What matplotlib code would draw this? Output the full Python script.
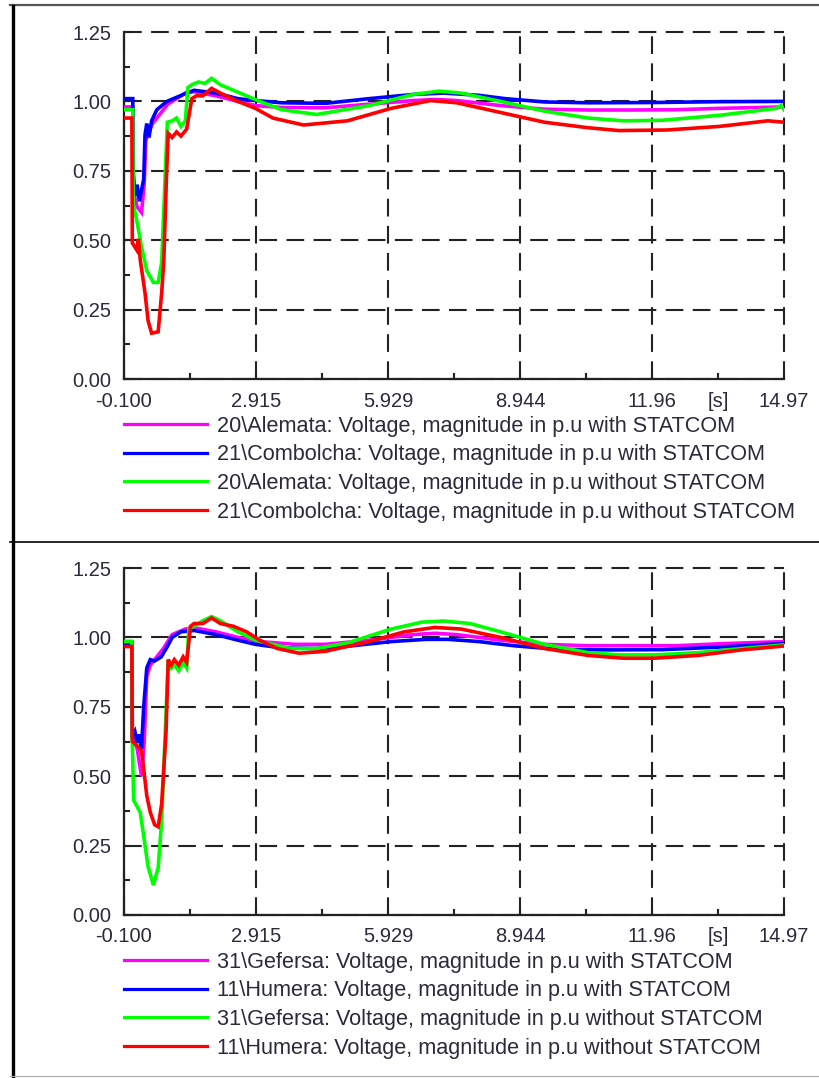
import matplotlib
matplotlib.use('Agg')
from matplotlib import pyplot as plt
from matplotlib.lines import Line2D
from matplotlib.ticker import FixedLocator, FixedFormatter

plt.rcParams['font.family'] = ['Liberation Sans', 'DejaVu Sans']

# axis ticks
x_ticks = [-0.1, 2.915, 5.929, 8.944, 11.96, 14.97]
x_tick_labels = ['-0.100', '2.915', '5.929', '8.944', '11.96', '14.97']
x_unit_label = '[s]'
y_ticks = [0.0, 0.25, 0.5, 0.75, 1.0, 1.25]
y_tick_labels = ['0.00', '0.25', '0.50', '0.75', '1.00', '1.25']

colors = ['#ff00ff', '#0000ff', '#00ff00', '#ff0000']

# ---- top panel: Alemata / Combolcha ----
top_labels = [
    '20\\Alemata: Voltage, magnitude in p.u with STATCOM',
    '21\\Combolcha: Voltage, magnitude in p.u with STATCOM',
    '20\\Alemata: Voltage, magnitude in p.u without STATCOM',
    '21\\Combolcha: Voltage, magnitude in p.u without STATCOM',
]

alemata_with_t = [-0.1, 0.1, 0.11, 0.2, 0.3, 0.36, 0.4, 0.47, 0.55, 0.7, 0.9, 1.3, 1.5,
                  2.0, 2.5, 2.9, 3.5, 4.5, 5.5, 6.5, 7.0, 7.5, 8.5, 9.5, 10.5, 11.5, 12.5, 13.5, 14.97]
alemata_with_v = [0.98, 0.98, 0.68, 0.62, 0.60, 0.70, 0.86, 0.89, 0.92, 0.95, 0.99, 1.03, 1.035,
                  1.02, 1.0, 0.985, 0.978, 0.977, 0.99, 1.003, 1.007, 1.003, 0.985, 0.972, 0.969, 0.969, 0.970, 0.975, 0.98]

combolcha_with_t = [-0.1, 0.1, 0.11, 0.15, 0.2, 0.25, 0.3, 0.35, 0.38, 0.42, 0.47, 0.53, 0.65, 0.88,
                    1.33, 1.5, 2.0, 2.5, 2.9, 3.5, 4.5, 5.5, 6.5, 7.2, 8.0, 8.6, 9.5, 10.5, 12.0, 13.5, 14.97]
combolcha_with_v = [1.01, 1.01, 0.75, 0.66, 0.70, 0.64, 0.68, 0.72, 0.88, 0.92, 0.87, 0.93, 0.97, 1.0,
                    1.03, 1.04, 1.03, 1.01, 1.003, 0.995, 0.993, 1.01, 1.025, 1.03, 1.022, 1.01, 0.998, 0.995, 0.996, 0.999, 1.0]

alemata_without_t = [-0.1, 0.1, 0.11, 0.19, 0.30, 0.42, 0.57, 0.68, 0.76, 0.84, 0.89, 1.0, 1.1, 1.2, 1.3,
                     1.36, 1.45, 1.6, 1.75, 1.9, 2.1, 2.4, 2.7, 3.0, 3.5, 4.3, 5.5, 6.5, 7.1, 7.6,
                     8.5, 9.5, 10.5, 11.3, 12.2, 13.5, 14.8, 14.9, 14.97]
alemata_without_v = [0.97, 0.97, 0.63, 0.573, 0.477, 0.39, 0.348, 0.348, 0.42, 0.73, 0.925, 0.93, 0.94, 0.91, 0.93,
                     1.05, 1.06, 1.07, 1.065, 1.083, 1.06, 1.04, 1.02, 1.0, 0.97, 0.953, 0.985, 1.025, 1.037, 1.03,
                     1.0, 0.965, 0.94, 0.93, 0.932, 0.95, 0.975, 0.985, 0.97]

combolcha_without_t = [-0.1, 0.08, 0.09, 0.19, 0.23, 0.27, 0.38, 0.45, 0.53, 0.68, 0.76, 0.81, 0.87, 0.91,
                       1.0, 1.1, 1.2, 1.33, 1.45, 1.55, 1.7, 1.9, 2.1, 2.5, 2.9, 3.3, 4.0, 5.0, 6.0,
                       6.9, 7.5, 8.5, 9.5, 10.5, 11.2, 12.3, 13.5, 14.6, 14.97]
combolcha_without_v = [0.94, 0.94, 0.49, 0.465, 0.505, 0.43, 0.31, 0.21, 0.165, 0.17, 0.31, 0.43, 0.73, 0.885,
                       0.87, 0.89, 0.875, 0.90, 1.01, 1.02, 1.02, 1.047, 1.03, 1.0, 0.975, 0.94, 0.915, 0.93, 0.975,
                       1.003, 0.995, 0.96, 0.925, 0.905, 0.895, 0.897, 0.91, 0.93, 0.925]

# ---- bottom panel: Gefersa / Humera ----
bottom_labels = [
    '31\\Gefersa: Voltage, magnitude in p.u with STATCOM',
    '11\\Humera: Voltage, magnitude in p.u with STATCOM',
    '31\\Gefersa: Voltage, magnitude in p.u without STATCOM',
    '11\\Humera: Voltage, magnitude in p.u without STATCOM',
]

gefersa_with_t = [-0.1, 0.08, 0.09, 0.2, 0.3, 0.36, 0.42, 0.5, 0.6, 0.8, 1.0, 1.3, 1.5, 2.0, 2.5,
                  3.0, 3.8, 4.5, 5.5, 6.5, 7.0, 7.5, 8.5, 9.5, 10.5, 11.5, 12.5, 13.5, 14.97]
gefersa_with_v = [0.985, 0.985, 0.64, 0.60, 0.50, 0.62, 0.86, 0.90, 0.92, 0.96, 1.01, 1.03, 1.035, 1.02, 1.0,
                  0.985, 0.975, 0.975, 0.99, 1.01, 1.015, 1.01, 0.99, 0.975, 0.97, 0.97, 0.97, 0.977, 0.985]

humera_with_t = [-0.1, 0.08, 0.09, 0.15, 0.2, 0.25, 0.3, 0.35, 0.42, 0.5, 0.6, 0.75, 0.9, 1.0, 1.2, 1.5,
                 2.0, 2.5, 2.9, 3.5, 4.3, 5.0, 6.0, 6.8, 7.3, 8.0, 8.8, 9.8, 11.0, 12.2, 13.5, 14.97]
humera_with_v = [0.979, 0.979, 0.64, 0.66, 0.62, 0.65, 0.60, 0.75, 0.89, 0.92, 0.915, 0.93, 0.97, 1.0, 1.02, 1.025,
                 1.01, 0.99, 0.975, 0.962, 0.96, 0.968, 0.985, 0.993, 0.993, 0.985, 0.97, 0.957, 0.955, 0.956, 0.965, 0.978]

gefersa_without_t = [-0.1, 0.08, 0.09, 0.12, 0.27, 0.34, 0.45, 0.57, 0.68, 0.76, 0.84, 0.91, 0.98, 1.05,
                     1.15, 1.25, 1.33, 1.38, 1.5, 1.7, 1.9, 2.1, 2.5, 2.9, 3.3, 3.7, 4.3, 5.0, 6.0,
                     6.7, 7.2, 7.8, 8.5, 9.5, 10.5, 11.2, 12.0, 13.0, 14.0, 14.97]
gefersa_without_v = [0.985, 0.985, 0.62, 0.414, 0.37, 0.295, 0.174, 0.108, 0.17, 0.34, 0.65, 0.92, 0.89, 0.90,
                     0.88, 0.91, 0.89, 1.03, 1.04, 1.06, 1.075, 1.06, 1.02, 0.99, 0.975, 0.96, 0.96, 0.98, 1.03,
                     1.055, 1.059, 1.05, 1.02, 0.975, 0.945, 0.937, 0.937, 0.945, 0.96, 0.973]

humera_without_t = [-0.1, 0.08, 0.09, 0.2, 0.3, 0.34, 0.42, 0.5, 0.6, 0.68, 0.76, 0.86, 0.91, 0.98, 1.05,
                    1.15, 1.25, 1.33, 1.42, 1.5, 1.7, 1.9, 2.1, 2.4, 2.7, 3.0, 3.4, 3.9, 4.5, 5.5,
                    6.3, 7.0, 7.6, 8.5, 9.5, 10.5, 11.3, 12.0, 13.0, 14.0, 14.97]
humera_without_v = [0.967, 0.967, 0.625, 0.61, 0.59, 0.54, 0.43, 0.37, 0.325, 0.318, 0.40, 0.66, 0.92, 0.90, 0.92,
                    0.90, 0.93, 0.91, 1.04, 1.05, 1.05, 1.07, 1.05, 1.04, 1.02, 0.99, 0.96, 0.943, 0.95, 0.985,
                    1.02, 1.036, 1.03, 1.0, 0.96, 0.935, 0.925, 0.925, 0.935, 0.955, 0.969]

top_series = [(alemata_with_t, alemata_with_v), (combolcha_with_t, combolcha_with_v),
              (alemata_without_t, alemata_without_v), (combolcha_without_t, combolcha_without_v)]
bottom_series = [(gefersa_with_t, gefersa_with_v), (humera_with_t, humera_with_v),
                 (gefersa_without_t, gefersa_without_v), (humera_without_t, humera_without_v)]

FS = 14.5
LEG_FS = 15.6
TEXT_COLOR = '#2a2a3a'
LINE_W = 2.6


def style_axes(ax):
    ax.set_xlim(x_ticks[0], x_ticks[-1])
    ax.set_ylim(y_ticks[0], y_ticks[-1])
    x_minor = [(a + b) / 2 for a, b in zip(x_ticks[:-1], x_ticks[1:])]
    y_minor = [(a + b) / 2 for a, b in zip(y_ticks[:-1], y_ticks[1:])]
    ax.xaxis.set_major_locator(FixedLocator(x_ticks))
    ax.xaxis.set_major_formatter(FixedFormatter(x_tick_labels))
    ax.xaxis.set_minor_locator(FixedLocator(x_minor))
    ax.xaxis.set_minor_formatter(FixedFormatter([''] * (len(x_minor) - 1) + [x_unit_label]))
    ax.yaxis.set_major_locator(FixedLocator(y_ticks))
    ax.yaxis.set_major_formatter(FixedFormatter(y_tick_labels))
    ax.yaxis.set_minor_locator(FixedLocator(y_minor))
    ax.tick_params(which='both', direction='in', width=1.5, colors='#222222',
                   labelsize=FS, labelcolor=TEXT_COLOR)
    ax.tick_params(which='major', length=5)
    ax.tick_params(which='minor', length=4)
    ax.tick_params(axis='x', which='both', pad=9)
    ax.tick_params(axis='y', which='both', pad=9)
    for side in ('top', 'right'):
        ax.spines[side].set_visible(False)
    for side in ('left', 'bottom'):
        ax.spines[side].set_linewidth(1.6)
        ax.spines[side].set_color('#222222')
    ax.grid(True, which='major', color='#222222', linewidth=1.5, linestyle=(0, (8.5, 4.5)))
    for gl in ax.get_xgridlines() + ax.get_ygridlines():
        gl.set_clip_on(False)
    ax.set_axisbelow(True)


def draw_panel(ax, series, labels):
    for (t, v), c, lab in zip(series, colors, labels):
        ax.plot(t, v, color=c, linewidth=LINE_W, solid_joinstyle='miter', label=lab, zorder=3)
    style_axes(ax)
    leg_handles = [Line2D([], [], color=c, linewidth=2.3) for c in colors]
    leg = ax.legend(leg_handles, labels, loc='upper left', bbox_to_anchor=(0.0, -0.106),
                    frameon=False, fontsize=LEG_FS, handlelength=3.85, handletextpad=0.42,
                    labelspacing=0.35, borderpad=0, borderaxespad=0)
    for txt in leg.get_texts():
        txt.set_color(TEXT_COLOR)


fig = plt.figure(figsize=(8.2, 10.78), dpi=100)
W, H = 820, 1078

ax_top = fig.add_axes([124 / W, 1 - 379 / H, 660 / W, 347 / H])
ax_bot = fig.add_axes([124 / W, 1 - 915 / H, 660 / W, 347 / H])

draw_panel(ax_top, top_series, top_labels)
draw_panel(ax_bot, bottom_series, bottom_labels)

# frame lines of the report page
fig.add_artist(Line2D([10 / W, 1], [1 - 5 / H, 1 - 5 / H], color='#555555', linewidth=1.6))
fig.add_artist(Line2D([13 / W, 13 / W], [0, 1 - 6 / H], color='black', linewidth=2.4))
fig.add_artist(Line2D([10 / W, 1], [1 - 542 / H, 1 - 542 / H], color='black', linewidth=1.2))
fig.add_artist(Line2D([10 / W, 1], [1 - 1076 / H, 1 - 1076 / H], color='#aaaaaa', linewidth=0.8))

fig.savefig('out.png', dpi=100)
